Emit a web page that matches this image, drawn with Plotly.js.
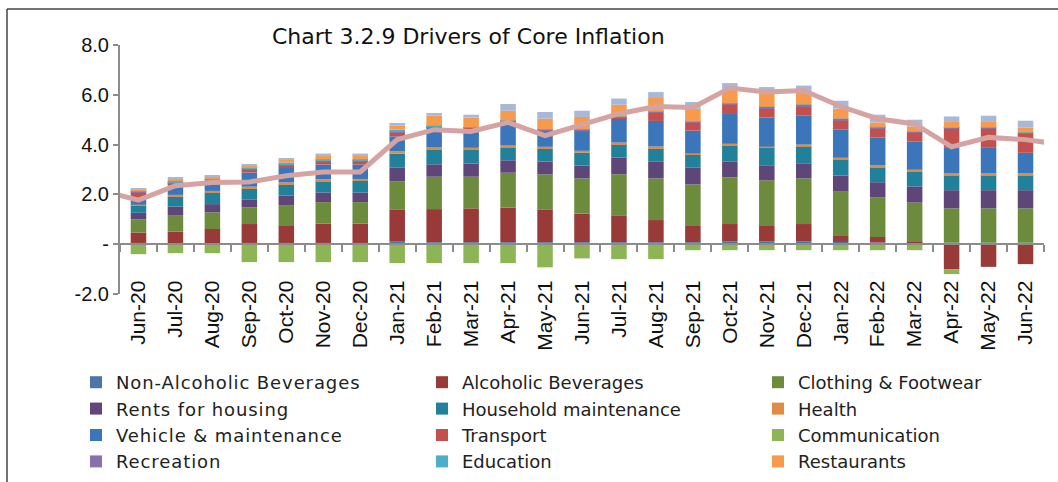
<!DOCTYPE html>
<html>
<head>
<meta charset="utf-8">
<script src="https://cdn.plot.ly/plotly-3.0.1.min.js"></script>
<style>
html,body{margin:0;padding:0;background:#fff;}
#chart{width:1058px;height:482px;}
.legendtext{letter-spacing:0.9px;}
</style>
</head>
<body>
<div id="chart"></div>
<script>
// Categories (bars) and extended months for the core-inflation line
const months = ["Jun-20","Jul-20","Aug-20","Sep-20","Oct-20","Nov-20","Dec-20","Jan-21","Feb-21","Mar-21","Apr-21","May-21","Jun-21","Jul-21","Aug-21","Sep-21","Oct-21","Nov-21","Dec-21","Jan-22","Feb-22","Mar-22","Apr-22","May-22","Jun-22"];
const lineMonths = ["May-20"].concat(months, ["Jul-22"]);

// Contributions (percentage points)
const nonAlcoholic = [0.05,0.04,0.04,0.05,0.05,0.05,0.05,0.10,0.08,0.08,0.08,0.08,0.08,0.08,0.08,0.08,0.12,0.12,0.12,0.09,0.07,0.06,0.06,0.06,0.06];
const alcoholic    = [0.42,0.47,0.57,0.76,0.68,0.78,0.78,1.30,1.33,1.36,1.39,1.32,1.15,1.08,0.89,0.65,0.69,0.61,0.69,0.24,0.22,0.03,-1.00,-0.91,-0.80];
const clothing     = [0.53,0.66,0.67,0.67,0.84,0.86,0.86,1.13,1.30,1.27,1.40,1.40,1.41,1.65,1.67,1.67,1.87,1.84,1.83,1.78,1.60,1.58,1.38,1.38,1.38];
const rents        = [0.26,0.34,0.33,0.32,0.38,0.39,0.39,0.54,0.50,0.53,0.50,0.52,0.52,0.67,0.67,0.67,0.63,0.60,0.61,0.65,0.60,0.65,0.73,0.73,0.73];
const household    = [0.30,0.40,0.47,0.43,0.46,0.45,0.47,0.56,0.59,0.56,0.51,0.51,0.51,0.53,0.54,0.52,0.65,0.70,0.68,0.64,0.59,0.59,0.60,0.60,0.60];
const health       = [0.03,0.07,0.06,0.08,0.07,0.08,0.07,0.10,0.08,0.07,0.08,0.08,0.08,0.07,0.07,0.06,0.07,0.05,0.07,0.07,0.08,0.08,0.07,0.07,0.07];
const vehicle      = [0.30,0.38,0.28,0.57,0.59,0.59,0.58,0.60,0.79,0.77,0.97,0.62,0.76,0.96,1.03,0.91,1.20,1.17,1.16,1.13,1.13,1.14,1.03,1.03,0.83];
const transport    = [0.20,0.08,0.08,0.11,0.08,0.11,0.11,0.14,0.03,0.03,0.02,0.04,0.06,0.05,0.32,0.31,0.37,0.34,0.37,0.36,0.36,0.34,0.77,0.77,0.77];
const communication= [-0.40,-0.36,-0.36,-0.72,-0.72,-0.72,-0.72,-0.76,-0.76,-0.76,-0.76,-0.93,-0.57,-0.60,-0.60,-0.24,-0.24,-0.24,-0.24,-0.24,-0.24,-0.24,-0.20,0,0];
const recreation   = [0.03,0.04,0.05,0.05,0.06,0.05,0.05,0.06,0.03,0.02,0.01,0.04,0.04,0.03,0.05,0.05,0.06,0.08,0.07,0.07,0.05,0.04,0.03,0.04,0.04];
const education    = [0.03,0.06,0.10,0.05,0.07,0.05,0.05,0.07,0.03,0.01,0.01,0.01,0.01,0.01,0.01,0.01,0.01,0.01,0.01,0.01,0.01,0.01,0.01,0.01,0.01];
const restaurants  = [0.04,0.08,0.08,0.07,0.13,0.16,0.16,0.17,0.40,0.39,0.39,0.42,0.49,0.47,0.54,0.51,0.57,0.65,0.52,0.41,0.18,0.21,0.23,0.22,0.20];
const others       = [0.03,0.04,0.05,0.04,0.04,0.07,0.07,0.10,0.11,0.11,0.27,0.27,0.25,0.25,0.24,0.27,0.23,0.14,0.24,0.31,0.31,0.27,0.22,0.25,0.27];
const coreInflation= [2.15,1.77,2.35,2.48,2.50,2.75,2.90,2.90,4.20,4.60,4.53,4.89,4.36,4.80,5.24,5.53,5.49,6.27,6.11,6.17,5.53,5.04,4.83,3.91,4.29,4.20,4.00];

const seriesNames = ["Non-Alcoholic Beverages","Alcoholic Beverages","Clothing & Footwear","Rents for housing","Household maintenance","Health","Vehicle & maintenance","Transport","Communication","Recreation","Education","Restaurants"];
const seriesData = [nonAlcoholic,alcoholic,clothing,rents,household,health,vehicle,transport,communication,recreation,education,restaurants];
const seriesColors = ["#4a77a8","#983a37","#6d8b3c","#5e4679","#21809a","#de8b45","#3a76b9","#c4504d","#8db555","#8a70ad","#4caec8","#f79a4c"];
const legendIds = ["legend","legend2","legend3"];

const traces = seriesData.map((vals, i) => ({
  type: "bar", name: seriesNames[i], x: months, y: vals, legend: legendIds[i % 3],
  marker: {color: seriesColors[i], line: {width: 0}},
  hoverinfo: "x+y+name"
}));
traces.push({type:"bar", name:"Others", x: months, y: others, showlegend:false,
  marker:{color:"#a7b8d9", line:{width:0}}});
traces.push({type:"scatter", mode:"lines", name:"Core inflation", x: lineMonths, y: coreInflation,
  showlegend:false, line:{color:"#d6a3a3", width:5}});

const plotL = 120, plotR = 1044, plotT = 45, plotB = 294;
const W = 1058, H = 482;
const pw = plotR - plotL, ph = plotB - plotT;
const px = v => (v - plotL) / pw;
const py = v => (plotB - v) / ph;

function legendAt(textX) {
  return {orientation: "v", x: px(textX - 40), xanchor: "left", y: py(364), yanchor: "top",
          traceorder: "normal", tracegroupgap: 0, bgcolor: "rgba(0,0,0,0)",
          font: {family: "DejaVu Sans, sans-serif", size: 18, color: "#222"}};
}

const layout = {
  width: W, height: H,
  margin: {l: plotL, r: W - plotR, t: plotT, b: H - plotB, pad: 0, autoexpand: false},
  paper_bgcolor: "#fff", plot_bgcolor: "#fff",
  barmode: "relative", bargap: 0.58,
  showlegend: true,
  title: {text: "Chart 3.2.9 Drivers of Core Inflation", x: 272/W, xanchor: "left", xref: "container",
          y: 1 - 36/H, yanchor: "middle", yref: "container",
          font: {family: "DejaVu Sans, sans-serif", size: 22, color: "#111"}},
  xaxis: {type: "category", categoryorder: "array", categoryarray: lineMonths, range: [0.5, 25.5],
          anchor: "free", position: 0.2, showline: true, linecolor: "#8c8c8c", linewidth: 2,
          ticks: "outside", tickson: "boundaries", ticklen: 7, tickcolor: "#8c8c8c", tickwidth: 2,
          tickangle: -90, ticklabelstandoff: 27, showgrid: false, zeroline: false, automargin: false,
          tickfont: {family: "Liberation Sans, Arial, sans-serif", size: 21, color: "#111"}},
  yaxis: {range: [-2, 8], tickvals: [-2,0,2,4,6,8], ticktext: ["-2.0","-","2.0","4.0","6.0","8.0"],
          showline: true, linecolor: "#8c8c8c", linewidth: 2, ticks: "outside", ticklen: 5,
          tickcolor: "#8c8c8c", tickwidth: 2, showgrid: false, zeroline: false, automargin: false,
          tickfont: {family: "Liberation Sans, Arial, sans-serif", size: 20, color: "#111"}},
  legend: legendAt(116),
  legend2: legendAt(462),
  legend3: legendAt(798),
  shapes: [
    {type: "line", xref: "paper", yref: "paper", x0: px(7), x1: px(W + 10), y0: py(9), y1: py(9), line: {color: "#444", width: 1.5}},
    {type: "line", xref: "paper", yref: "paper", x0: px(7), x1: px(7), y0: py(9), y1: py(H + 20), line: {color: "#444", width: 1.5}}
  ]
};

Plotly.newPlot("chart", traces, layout, {displayModeBar: false, responsive: false});
</script>
</body>
</html>
